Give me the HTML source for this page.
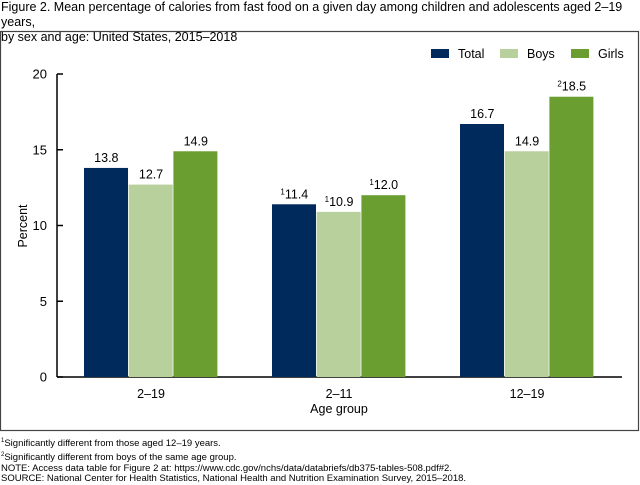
<!DOCTYPE html>
<html><head><meta charset="utf-8"><style>
body{margin:0;background:#fff;width:640px;height:480px;overflow:hidden;font-family:"Liberation Sans",Arial,sans-serif}
.t{position:absolute;left:1px;top:0;font-size:12.5px;line-height:15px;color:#000}
.fn{position:absolute;left:1px;font-size:9.5px;line-height:10.6px;color:#000;top:436px}
</style></head><body>
<div class="t">Figure 2. Mean percentage of calories from fast food on a given day among children and adolescents aged 2–19 years,<br>by sex and age: United States, 2015–2018</div>
<svg id="c" style="position:absolute;left:0;top:0" width="640" height="480" font-family="Liberation Sans, Arial, sans-serif">
<rect x="0.5" y="31.5" width="638" height="399" fill="none" stroke="#444" stroke-width="1.2"/>
</svg>
<div class="fn"><sup style="font-size:6px">1</sup>Significantly different from those aged 12–19 years.<br><sup style="font-size:6px">2</sup>Significantly different from boys of the same age group.<br>NOTE: Access data table for Figure 2 at: https://www.cdc.gov/nchs/data/databriefs/db375-tables-508.pdf#2.<br>SOURCE: National Center for Health Statistics, National Health and Nutrition Examination Survey, 2015–2018.</div>
<script>
const categories=["2–19","2–11","12–19"];
const seriesNames=["Total","Boys","Girls"];
const total=[13.8,11.4,16.7];
const boys=[12.7,10.9,14.9];
const girls=[14.9,12.0,18.5];
const totalNotes=["","1",""];
const boysNotes=["","1",""];
const girlsNotes=["","1","2"];
const yTicks=[0,5,10,15,20];
const colors=["#002a5c","#b7d09c","#6b9e31"];
const svg=document.getElementById('c');
const NS="http://www.w3.org/2000/svg";
const y0=377,yTop=74,yMax=20;
const y=v=>y0-(v/yMax)*(y0-yTop);
const gx=i=>84+i*188;
const bw=44.7;
function mk(t,a,txt){const e=document.createElementNS(NS,t);for(const k in a)e.setAttribute(k,a[k]);if(txt!==undefined)e.textContent=txt;svg.appendChild(e);return e;}
let e;
e=mk('line',{x1:57,y1:y0,x2:622,y2:y0,stroke:'#000','stroke-width':1.5});


e=mk('line',{x1:57,y1:yTop,x2:57,y2:y0,stroke:'#000','stroke-width':1.5});


yTicks.forEach(v=>{
 e=mk('line',{x1:57,y1:y(v),x2:63,y2:y(v),stroke:'#000','stroke-width':1.5});
 
 
 e=mk('text',{x:47,y:y(v)+4.5,'font-size':13,'text-anchor':'end'},String(v));
 
 
});
e=mk('text',{x:0,y:0,'font-size':12.5,'text-anchor':'middle',transform:'translate(27,226) rotate(-90)'},'Percent');


e=mk('text',{x:339,y:413,'font-size':12.5,'text-anchor':'middle'},'Age group');


const series=[total,boys,girls],notes=[totalNotes,boysNotes,girlsNotes];
categories.forEach((c,i)=>{
 series.forEach((s,j)=>{
  const x=gx(i)+j*bw;
  e=mk('rect',{x:x,y:y(s[i]),width:bw-0.7,height:y0-y(s[i]),fill:colors[j]});
  
  
  const t=mk('text',{x:x+bw/2,y:y(s[i])-6,'font-size':12.5,'text-anchor':'middle'});
  
  
  if(notes[j][i]){const sp=document.createElementNS(NS,'tspan');sp.setAttribute('font-size',8);sp.setAttribute('dy',-4);sp.textContent=notes[j][i];t.appendChild(sp);const sp2=document.createElementNS(NS,'tspan');sp2.setAttribute('dy',4);sp2.textContent=s[i].toFixed(1);t.appendChild(sp2);}
  else t.textContent=s[i].toFixed(1);
 });
 e=mk('text',{x:gx(i)+1.5*bw,y:398,'font-size':12.5,'text-anchor':'middle'},c);
 
 
});
const lx=[431,500,571];
seriesNames.forEach((n,j)=>{
 e=mk('rect',{x:lx[j],y:49,width:18,height:9,fill:colors[j]});
 
 
 e=mk('text',{x:lx[j]+27,y:58,'font-size':12.5},n);
 
 
});
</script>
</body></html>
